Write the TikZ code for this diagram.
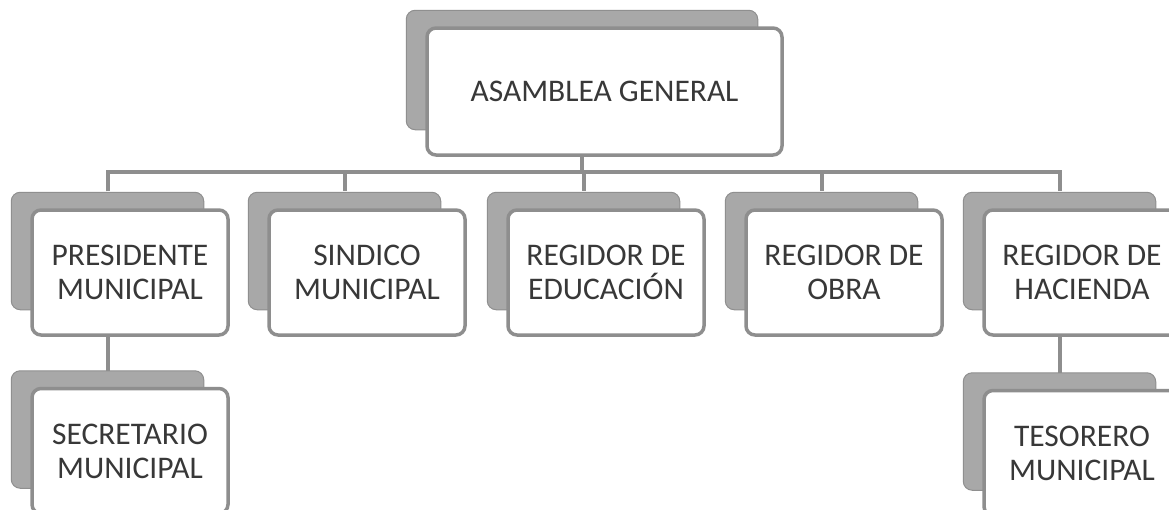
\documentclass[tikz,border=0pt]{standalone}
\usepackage{fontspec}
\setmainfont{Carlito}
\usetikzlibrary{calc,backgrounds}
\definecolor{shadowgray}{HTML}{A8A8A8}
\definecolor{linegray}{HTML}{8E8E8E}
\definecolor{textgray}{HTML}{383838}
\begin{document}
\begin{tikzpicture}[x=1pt,y=-1pt,
  card/.style={draw=linegray, line width=3.5pt, fill=white, rounded corners=9pt,
    minimum width=196pt, minimum height=125pt, align=center, text=textgray,
    font=\fontsize{31.5}{34}\selectfont, inner sep=0pt},
  conn/.style={draw=linegray, line width=4pt},
  shad/.style={fill=shadowgray, draw=shadowgray!85!black, line width=1pt, rounded corners=9pt}]
\useasboundingbox (0,0) rectangle (1169,509);
\clip (0,0) rectangle (1169,509);
% cards
\node[card, minimum width=355pt, minimum height=127pt] (asam) at (604.5,91.5) {ASAMBLEA GENERAL};
\node[card] (pres) at (130,272.5) {PRESIDENTE\\MUNICIPAL};
\node[card] (sind) at (367,272.5) {SINDICO\\MUNICIPAL};
\node[card] (educ) at (606,272.5) {REGIDOR DE\\EDUCACIÓN};
\node[card] (obra) at (844,272.5) {REGIDOR DE\\OBRA};
\node[card] (haci) at (1082,272.5) {REGIDOR DE\\HACIENDA};
\node[card] (secr) at (130,451) {SECRETARIO\\MUNICIPAL};
\node[card] (teso) at (1082,453) {TESORERO\\MUNICIPAL};
% shadows
\begin{scope}[on background layer]
  \fill[white] (0,0) rectangle (1169,509);
  \foreach \n in {asam,pres,sind,educ,obra,haci,secr,teso}{
    \path[shad] ($(\n.north west)+(-19,-16)$) rectangle ($(\n.south east)+(-26,-27)$);
  }
\end{scope}
% connector points
\coordinate (bus) at (0,172);
\coordinate (asamb) at ($(asam.south)+(-22.5,0)$);
\coordinate (prest) at ($(pres.north)+(-22.5,-17)$);
\coordinate (sindt) at ($(sind.north)+(-22.5,-17)$);
\coordinate (educt) at ($(educ.north)+(-22.5,-17)$);
\coordinate (obrat) at ($(obra.north)+(-22.5,-17)$);
\coordinate (hacit) at ($(haci.north)+(-22.5,-17)$);
\coordinate (presb) at ($(pres.south)+(-22.5,0)$);
\coordinate (hacib) at ($(haci.south)+(-22.5,0)$);
\coordinate (secrt) at ($(secr.north)+(-22.5,-16)$);
\coordinate (tesot) at ($(teso.north)+(-22.5,-16)$);
\begin{scope}[on background layer]
\draw[conn] (prest) -- (prest |- bus) -- (hacit |- bus) -- (hacit);
\draw[conn] (asamb) -- (asamb |- bus);
\draw[conn] (sindt |- bus) -- (sindt);
\draw[conn] (educt |- bus) -- (educt);
\draw[conn] (obrat |- bus) -- (obrat);
\draw[conn] (presb) -- (secrt);
\draw[conn] (hacib) -- (tesot);
\end{scope}
\end{tikzpicture}
\end{document}
